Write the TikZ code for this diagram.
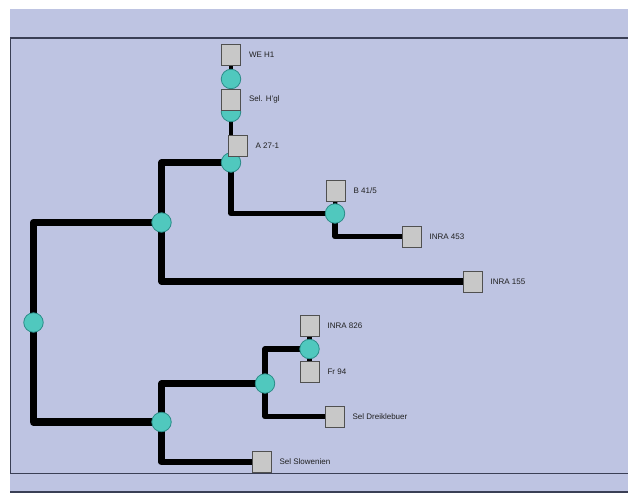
\documentclass[tikz,border=0pt]{standalone}
\usepackage{fontspec}
\setmainfont{Liberation Sans}
\pgfdeclarelayer{bg}
\pgfdeclarelayer{edges}
\pgfsetlayers{bg,edges,main}
\definecolor{lav}{HTML}{BEC4E2}
\definecolor{frame}{HTML}{3A3F55}
\definecolor{tealfill}{HTML}{50C8BE}
\definecolor{tealdraw}{HTML}{2B8C88}
\definecolor{sqfill}{HTML}{C8C8C8}
\definecolor{sqdraw}{HTML}{505050}
\definecolor{txt}{HTML}{202020}
\begin{document}
\begin{tikzpicture}[x=1pt,y=-1pt,
  inner/.style={circle,minimum size=19.5pt,inner sep=0pt,fill=tealfill,draw=tealdraw,line width=0.8pt},
  leaf/.style={rectangle,minimum width=19pt,minimum height=21pt,inner sep=0pt,fill=sqfill,draw=sqdraw,line width=0.8pt},
  lbl/.style={anchor=west,inner sep=0pt,text=txt,font=\fontsize{8}{9}\selectfont},
  edge/.style={draw=black,line join=round,line cap=butt},
  e1/.style={edge,line width=7.5pt},
  e2/.style={edge,line width=6.5pt},
  e3/.style={edge,line width=5.5pt},
  e4/.style={edge,line width=4.2pt},
  frm/.style={draw=frame,line width=1.2pt}]
\useasboundingbox (0,0) rectangle (628,493);
\begin{pgfonlayer}{bg}
  \fill[lav] (10,9) rectangle (628,493);
  \draw[frm] (628,38) -- (10.5,38) -- (10.5,473.5) -- (628,473.5);
  \draw[frame,line width=1.6pt] (10,492) -- (628,492);
\end{pgfonlayer}
% internal nodes
\node[inner] (r)  at (33.5,322.5) {};
\node[inner] (n1) at (161.5,222.5) {};
\node[inner] (n2) at (161.5,422) {};
\node[inner] (cA) at (231,162.5) {};
\node[inner] (cS) at (231,112) {};
\node[inner] (cW) at (231,79) {};
\node[inner] (cB) at (335,213.5) {};
\node[inner] (cC) at (265,383.5) {};
\node[inner] (cD) at (309.5,349) {};
% leaves
\node[leaf] (W)    at (231,55) {};
\node[leaf] (S)    at (231,99.5) {};
\node[leaf] (A)    at (237.5,146) {};
\node[leaf] (B)    at (335.5,191) {};
\node[leaf] (I453) at (411.5,236.5) {};
\node[leaf] (I155) at (472.5,281.5) {};
\node[leaf] (I826) at (309.5,325.5) {};
\node[leaf] (F)    at (309.5,371.5) {};
\node[leaf] (D)    at (334.5,416.5) {};
\node[leaf] (SS)   at (261.5,462) {};
% labels
\node[lbl] (lW)    at ([xshift=8pt]W.east)    {WE H1};
\node[lbl] (lS)    at ([xshift=8pt]S.east)    {Sel. H'gl};
\node[lbl] (lA)    at ([xshift=8pt]A.east)    {A 27-1};
\node[lbl] (lB)    at ([xshift=8pt]B.east)    {B 41/5};
\node[lbl] (l453)  at ([xshift=8pt]I453.east) {INRA 453};
\node[lbl] (l155)  at ([xshift=8pt]I155.east) {INRA 155};
\node[lbl] (l826)  at ([xshift=8pt]I826.east) {INRA 826};
\node[lbl] (lF)    at ([xshift=8pt]F.east)    {Fr 94};
\node[lbl] (lD)    at ([xshift=8pt]D.east)    {Sel Dreiklebuer};
\node[lbl] (lSS)   at ([xshift=8pt]SS.east)   {Sel Slowenien};
% connectors
\begin{pgfonlayer}{edges}
  \draw[e1] (r.center) |- (n1.center);
  \draw[e1] (r.center) |- (n2.center);
  \draw[e2] (n1.center) |- (cA.center);
  \draw[e2] (n1.center) |- (I155.center);
  \draw[e3] (cA.center) |- (cB.center);
  \draw[e4] (cA.center) -- (cS.center);
  \draw[e4] (cS.center) -- (cW.center);
  \draw[e4] (cW.center) -- (W.center);
  \draw[e4] (cB.center) -- (B.center);
  \draw[e3] (cB.center) |- (I453.center);
  \draw[e2] (n2.center) |- (cC.center);
  \draw[e2] (n2.center) |- (SS.center);
  \draw[e3] (cC.center) |- (cD.center);
  \draw[e3] (cC.center) |- (D.center);
  \draw[e4] (cD.center) -- (I826.center);
  \draw[e4] (cD.center) -- (F.center);
\end{pgfonlayer}
\end{tikzpicture}
\end{document}
